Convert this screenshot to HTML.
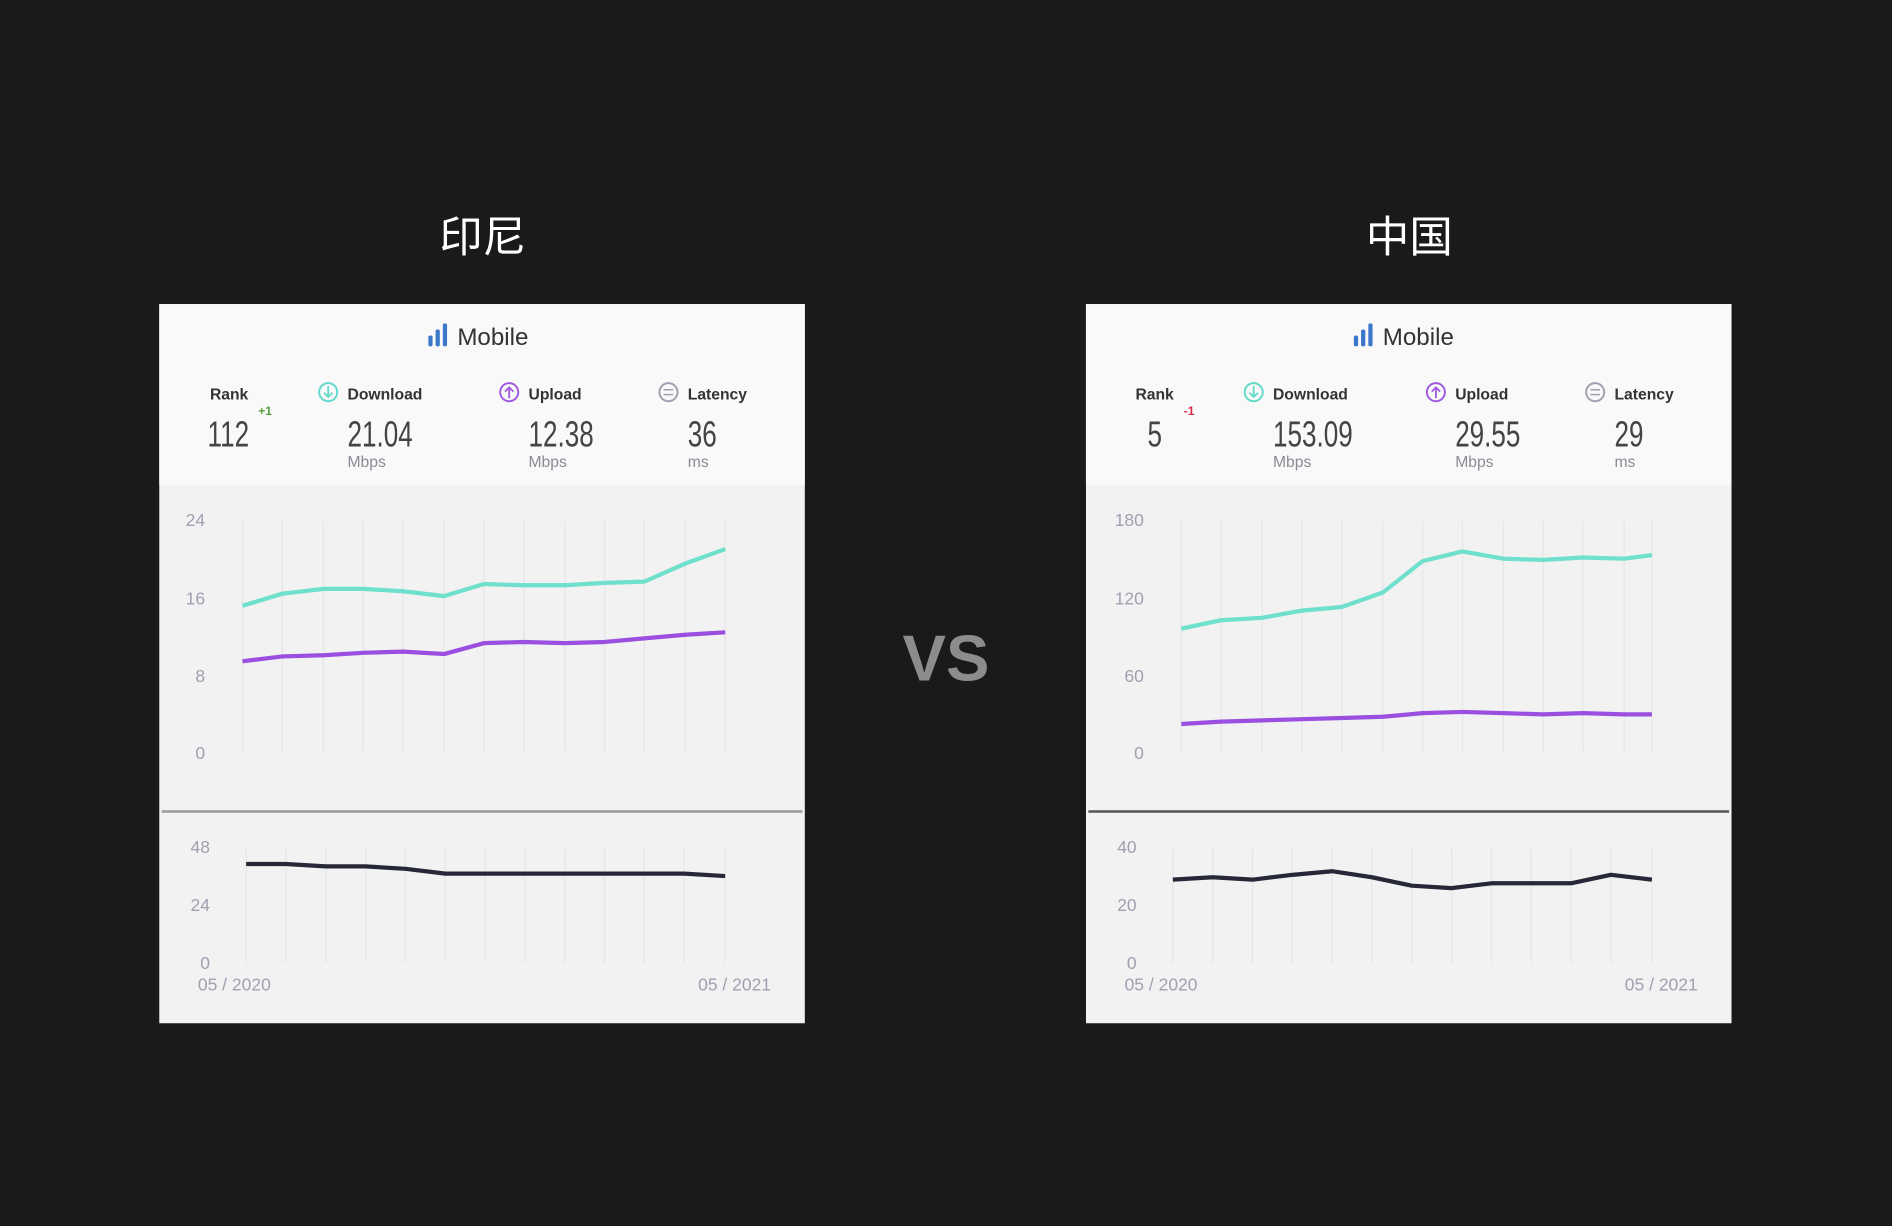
<!DOCTYPE html>
<html><head><meta charset="utf-8"><style>
html,body{margin:0;padding:0;background:#1a1a1a;}
svg{display:block}
text{font-family:"Liberation Sans","Noto Sans CJK SC",sans-serif;}
.lab{font-size:13px;font-weight:bold;fill:#333}
.num{font-size:30px;fill:#444}
.unit{font-size:13px;fill:#8a8a96}
.ax{font-size:14.5px;fill:#a0a0b0}
.grid{stroke:#e6e6e9;stroke-width:1}
</style></head><body>
<svg width="1892" height="1226" viewBox="0 0 1568 1016" xmlns="http://www.w3.org/2000/svg">
<rect width="1568" height="1016" fill="#1a1a1a"/>
<text x="400" y="209" font-size="36" fill="#fff" text-anchor="middle">印尼</text>
<text x="1168" y="209" font-size="36" fill="#fff" text-anchor="middle">中国</text>
<text x="784" y="564" font-size="54" font-weight="bold" fill="#8c8c8c" text-anchor="middle">VS</text>

<!-- LEFT CARD -->
<g>
<rect x="132" y="252" width="535" height="596" fill="#f2f2f2"/>
<rect x="132" y="252" width="535" height="150" fill="#f9f9f9"/>
<line x1="134" y1="672.5" x2="665" y2="672.5" stroke="#9a9a9a" stroke-width="2"/>
<rect x="355" y="278" width="3.5" height="9" rx="1.5" fill="#3a78c9"/><rect x="361" y="273" width="3.5" height="14" rx="1.5" fill="#3a78c9"/><rect x="367" y="268" width="3.5" height="19" rx="1.5" fill="#3a78c9"/>
<text x="379" y="286" font-size="20" fill="#333">Mobile</text>
<text x="174" y="331" class="lab">Rank</text>
<text x="172" y="370" class="num" transform="translate(172 0) scale(0.72 1) translate(-172 0)">112</text>
<text x="214" y="344" font-size="10" font-weight="bold" fill="#5aa040">+1</text>
<circle cx="272" cy="325" r="7.5" fill="none" stroke="#62d9c9" stroke-width="1.6"/><path d="M272 320v9M268.5 325.5l3.5 3.5 3.5-3.5" stroke="#62d9c9" stroke-width="1.5" fill="none"/>
<text x="288" y="331" class="lab">Download</text>
<text x="288" y="370" class="num" transform="translate(288 0) scale(0.72 1) translate(-288 0)">21.04</text>
<text x="288" y="387" class="unit">Mbps</text>
<circle cx="422" cy="325" r="7.5" fill="none" stroke="#a05ae0" stroke-width="1.6"/><path d="M422 330v-9M418.5 324.5l3.5-3.5 3.5 3.5" stroke="#a05ae0" stroke-width="1.5" fill="none"/>
<text x="438" y="331" class="lab">Upload</text>
<text x="438" y="370" class="num" transform="translate(438 0) scale(0.72 1) translate(-438 0)">12.38</text>
<text x="438" y="387" class="unit">Mbps</text>
<circle cx="554" cy="325" r="7.5" fill="none" stroke="#a0a0b0" stroke-width="1.6"/><path d="M550 323h8M550 327h8" stroke="#a0a0b0" stroke-width="1.3"/>
<text x="570" y="331" class="lab">Latency</text>
<text x="570" y="370" class="num" transform="translate(570 0) scale(0.72 1) translate(-570 0)">36</text>
<text x="570" y="387" class="unit">ms</text>
<g class="grid">
<line x1="201" y1="432" x2="201" y2="623"/><line x1="234" y1="432" x2="234" y2="623"/><line x1="268" y1="432" x2="268" y2="623"/><line x1="301" y1="432" x2="301" y2="623"/><line x1="334" y1="432" x2="334" y2="623"/><line x1="368" y1="432" x2="368" y2="623"/><line x1="401" y1="432" x2="401" y2="623"/><line x1="434" y1="432" x2="434" y2="623"/><line x1="468" y1="432" x2="468" y2="623"/><line x1="501" y1="432" x2="501" y2="623"/><line x1="534" y1="432" x2="534" y2="623"/><line x1="568" y1="432" x2="568" y2="623"/><line x1="601" y1="432" x2="601" y2="623"/>
<line x1="204" y1="703" x2="204" y2="798"/><line x1="237" y1="703" x2="237" y2="798"/><line x1="270" y1="703" x2="270" y2="798"/><line x1="303" y1="703" x2="303" y2="798"/><line x1="336" y1="703" x2="336" y2="798"/><line x1="369" y1="703" x2="369" y2="798"/><line x1="402" y1="703" x2="402" y2="798"/><line x1="435" y1="703" x2="435" y2="798"/><line x1="468" y1="703" x2="468" y2="798"/><line x1="501" y1="703" x2="501" y2="798"/><line x1="534" y1="703" x2="534" y2="798"/><line x1="567" y1="703" x2="567" y2="798"/><line x1="601" y1="703" x2="601" y2="798"/>
</g>
<text x="170" y="436" class="ax" text-anchor="end">24</text><text x="170" y="501" class="ax" text-anchor="end">16</text><text x="170" y="565" class="ax" text-anchor="end">8</text><text x="170" y="629" class="ax" text-anchor="end">0</text>
<text x="174" y="707" class="ax" text-anchor="end">48</text><text x="174" y="755" class="ax" text-anchor="end">24</text><text x="174" y="803" class="ax" text-anchor="end">0</text>
<text x="164" y="821" class="ax">05 / 2020</text><text x="639" y="821" class="ax" text-anchor="end">05 / 2021</text>
<polyline fill="none" stroke="#6ee0cc" stroke-width="3.5" stroke-linejoin="round" points="201,502 234,492 268,488 301,488 334,490 368,494 401,484 434,485 468,485 501,483 534,482 568,467 601,455"/>
<polyline fill="none" stroke="#9a4fe0" stroke-width="3.5" stroke-linejoin="round" points="201,548 234,544 268,543 301,541 334,540 368,542 401,533 434,532 468,533 501,532 534,529 568,526 601,524"/>
<polyline fill="none" stroke="#262838" stroke-width="3.5" stroke-linejoin="round" points="204,716 237,716 270,718 303,718 336,720 369,724 402,724 435,724 468,724 501,724 534,724 567,724 601,726"/>
</g>

<!-- RIGHT CARD -->
<g>
<rect x="900" y="252" width="535" height="596" fill="#f2f2f2"/>
<rect x="900" y="252" width="535" height="150" fill="#f9f9f9"/>
<line x1="902" y1="672.5" x2="1433" y2="672.5" stroke="#555" stroke-width="2"/>
<rect x="1122" y="278" width="3.5" height="9" rx="1.5" fill="#3a78c9"/><rect x="1128" y="273" width="3.5" height="14" rx="1.5" fill="#3a78c9"/><rect x="1134" y="268" width="3.5" height="19" rx="1.5" fill="#3a78c9"/>
<text x="1146" y="286" font-size="20" fill="#333">Mobile</text>
<text x="941" y="331" class="lab">Rank</text>
<text x="951" y="370" class="num" transform="translate(951 0) scale(0.72 1) translate(-951 0)">5</text>
<text x="981" y="344" font-size="10" font-weight="bold" fill="#d8304a">-1</text>
<circle cx="1039" cy="325" r="7.5" fill="none" stroke="#62d9c9" stroke-width="1.6"/><path d="M1039 320v9M1035.5 325.5l3.5 3.5 3.5-3.5" stroke="#62d9c9" stroke-width="1.5" fill="none"/>
<text x="1055" y="331" class="lab">Download</text>
<text x="1055" y="370" class="num" transform="translate(1055 0) scale(0.72 1) translate(-1055 0)">153.09</text>
<text x="1055" y="387" class="unit">Mbps</text>
<circle cx="1190" cy="325" r="7.5" fill="none" stroke="#a05ae0" stroke-width="1.6"/><path d="M1190 330v-9M1186.5 324.5l3.5-3.5 3.5 3.5" stroke="#a05ae0" stroke-width="1.5" fill="none"/>
<text x="1206" y="331" class="lab">Upload</text>
<text x="1206" y="370" class="num" transform="translate(1206 0) scale(0.72 1) translate(-1206 0)">29.55</text>
<text x="1206" y="387" class="unit">Mbps</text>
<circle cx="1322" cy="325" r="7.5" fill="none" stroke="#a0a0b0" stroke-width="1.6"/><path d="M1318 323h8M1318 327h8" stroke="#a0a0b0" stroke-width="1.3"/>
<text x="1338" y="331" class="lab">Latency</text>
<text x="1338" y="370" class="num" transform="translate(1338 0) scale(0.72 1) translate(-1338 0)">29</text>
<text x="1338" y="387" class="unit">ms</text>
<g class="grid">
<line x1="979" y1="432" x2="979" y2="623"/><line x1="1012" y1="432" x2="1012" y2="623"/><line x1="1046" y1="432" x2="1046" y2="623"/><line x1="1079" y1="432" x2="1079" y2="623"/><line x1="1112" y1="432" x2="1112" y2="623"/><line x1="1146" y1="432" x2="1146" y2="623"/><line x1="1179" y1="432" x2="1179" y2="623"/><line x1="1212" y1="432" x2="1212" y2="623"/><line x1="1246" y1="432" x2="1246" y2="623"/><line x1="1279" y1="432" x2="1279" y2="623"/><line x1="1312" y1="432" x2="1312" y2="623"/><line x1="1346" y1="432" x2="1346" y2="623"/><line x1="1369" y1="432" x2="1369" y2="623"/>
<line x1="972" y1="703" x2="972" y2="798"/><line x1="1005" y1="703" x2="1005" y2="798"/><line x1="1038" y1="703" x2="1038" y2="798"/><line x1="1071" y1="703" x2="1071" y2="798"/><line x1="1104" y1="703" x2="1104" y2="798"/><line x1="1137" y1="703" x2="1137" y2="798"/><line x1="1170" y1="703" x2="1170" y2="798"/><line x1="1203" y1="703" x2="1203" y2="798"/><line x1="1236" y1="703" x2="1236" y2="798"/><line x1="1269" y1="703" x2="1269" y2="798"/><line x1="1302" y1="703" x2="1302" y2="798"/><line x1="1335" y1="703" x2="1335" y2="798"/><line x1="1369" y1="703" x2="1369" y2="798"/>
</g>
<text x="948" y="436" class="ax" text-anchor="end">180</text><text x="948" y="501" class="ax" text-anchor="end">120</text><text x="948" y="565" class="ax" text-anchor="end">60</text><text x="948" y="629" class="ax" text-anchor="end">0</text>
<text x="942" y="707" class="ax" text-anchor="end">40</text><text x="942" y="755" class="ax" text-anchor="end">20</text><text x="942" y="803" class="ax" text-anchor="end">0</text>
<text x="932" y="821" class="ax">05 / 2020</text><text x="1407" y="821" class="ax" text-anchor="end">05 / 2021</text>
<polyline fill="none" stroke="#6ee0cc" stroke-width="3.5" stroke-linejoin="round" points="979,521 1012,514 1046,512 1079,506 1112,503 1146,491 1179,465 1212,457 1246,463 1279,464 1312,462 1346,463 1369,460"/>
<polyline fill="none" stroke="#9a4fe0" stroke-width="3.5" stroke-linejoin="round" points="979,600 1012,598 1046,597 1079,596 1112,595 1146,594 1179,591 1212,590 1246,591 1279,592 1312,591 1346,592 1369,592"/>
<polyline fill="none" stroke="#262838" stroke-width="3.5" stroke-linejoin="round" points="972,729 1005,727 1038,729 1071,725 1104,722 1137,727 1170,734 1203,736 1236,732 1269,732 1302,732 1335,725 1369,729"/>
</g>
</svg>
</body></html>
